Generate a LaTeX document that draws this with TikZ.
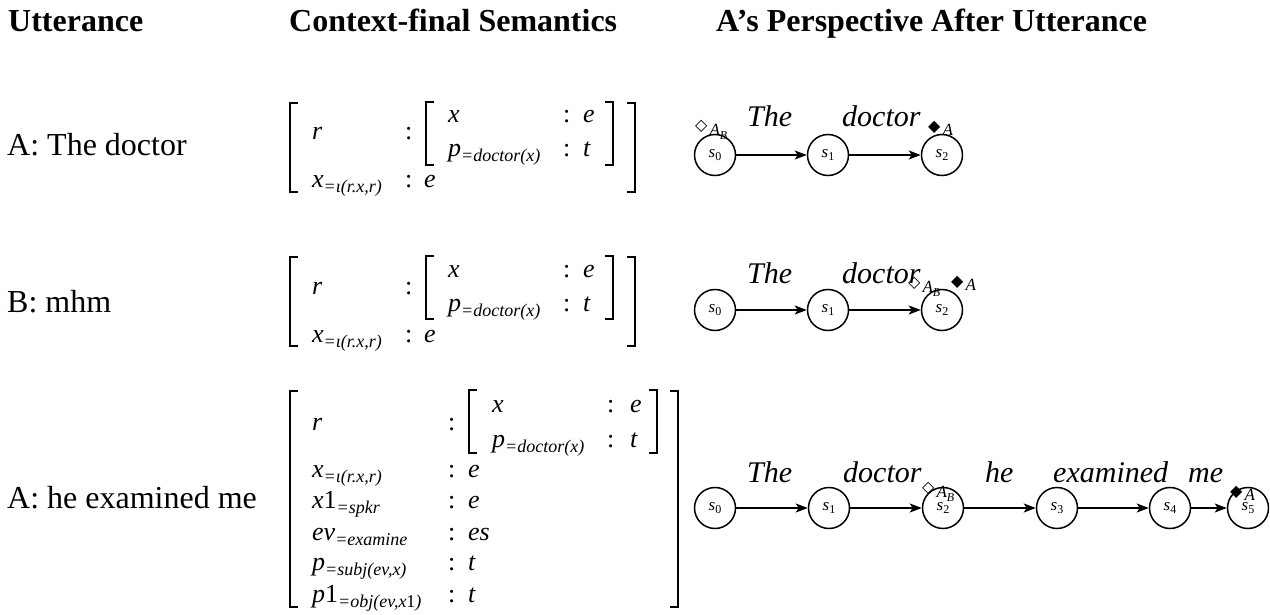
\documentclass[tikz,border=0pt]{standalone}
\usepackage{fontspec}
\setmainfont{Liberation Serif}
\newfontfamily\symfont{DejaVu Sans}
\usetikzlibrary{arrows.meta}
\newcommand{\sm}[1]{\raisebox{-5pt}{\fontsize{18}{18}\selectfont #1}}
\newcommand{\stl}[1]{s\raisebox{-3pt}{\fontsize{12}{12}\selectfont\upshape #1}}
\newcommand{\brL}[3]{\draw[brk] ({#1+8},#2) -- (#1,#2) -- (#1,#3) -- ({#1+8},#3);}
\newcommand{\brR}[3]{\draw[brk] ({#1-8},#2) -- (#1,#2) -- (#1,#3) -- ({#1-8},#3);}
\newcommand{\wdia}{{\symfont\fontsize{16}{16}\selectfont\raisebox{5pt}{◇}}}
\newcommand{\bdia}{{\symfont\fontsize{16}{16}\selectfont\raisebox{4pt}{◆}}}
\newcommand{\mkAB}{\wdia\kern2pt{\itshape A\raisebox{-4pt}{\fontsize{12}{12}\selectfont B}}}
\newcommand{\mkAA}{\bdia\kern2pt{\itshape A}}
\begin{document}
\begin{tikzpicture}[x=1pt,y=-1pt,
  hdr/.style={anchor=base west,inner sep=0pt,font=\fontsize{32}{32}\selectfont\bfseries},
  utt/.style={anchor=base west,inner sep=0pt,font=\fontsize{32}{32}\selectfont},
  mt/.style={anchor=base west,inner sep=0pt,font=\fontsize{26}{26}\selectfont\itshape},
  gw/.style={anchor=base west,inner sep=0pt,font=\fontsize{30}{30}\selectfont\itshape},
  mk/.style={anchor=base west,inner sep=0pt,font=\fontsize{17}{17}\selectfont},
  st/.style={circle,draw,line width=1.5pt,minimum size=41pt,inner sep=0pt,font=\fontsize{17}{17}\selectfont\itshape},
  arr/.style={-{Stealth[length=12pt,width=9pt,inset=3pt]},line width=1.4pt},
  brk/.style={line width=1.5pt}]
\useasboundingbox (0,0) rectangle (1270,615);
% headers
\node[hdr] (h1) at (8,32) {Utterance};
\node[hdr] (h2) at (289,32) {Context-final Semantics};
\node[hdr] (h3) at (716,32) {A’s Perspective After Utterance};
% utterances
\node[utt] (u1) at (7,156) {A: The doctor};
\node[utt] (u2) at (7,312) {B: mhm};
\node[utt] (u3) at (7,508) {A: he examined me};
% matrices 1 and 2
\foreach \dy/\n in {0/m, 154/n}{
\begin{scope}[shift={(0,\dy)}]
\brL{290}{103}{192}\brR{635}{103}{192}
\brL{426}{102}{165}\brR{613}{102}{165}
\node[mt] (\n r) at (312,140) {r};
\node[mt] (\n c1) at (405,140) {\upshape :};
\node[mt] (\n ix) at (448,123) {x};
\node[mt] (\n ic1) at (563,123) {\upshape :};
\node[mt] (\n ie) at (583,123) {e};
\node[mt] (\n ip) at (448,157) {p\sm{=doctor(x)}};
\node[mt] (\n ic2) at (563,157) {\upshape :};
\node[mt] (\n it) at (583,157) {t};
\node[mt] (\n x) at (312,188) {x\sm{=ι(r.x,r)}};
\node[mt] (\n c2) at (405,188) {\upshape :};
\node[mt] (\n e) at (424,188) {e};
\end{scope}}
% matrix 3
\brL{290}{391}{607}\brR{678}{391}{607}
\brL{469}{390}{453}\brR{657}{390}{453}
\node[mt] (kr) at (312,430) {r};
\node[mt] (kc1) at (448,430) {\upshape :};
\node[mt] (kix) at (492,412) {x};
\node[mt] (kic1) at (607,412) {\upshape :};
\node[mt] (kie) at (630,412) {e};
\node[mt] (kip) at (492,447) {p\sm{=doctor(x)}};
\node[mt] (kic2) at (607,447) {\upshape :};
\node[mt] (kit) at (630,447) {t};
\node[mt] (kx) at (312,477) {x\sm{=ι(r.x,r)}};
\node[mt] (kc2) at (448,477) {\upshape :};
\node[mt] (ke2) at (468,477) {e};
\node[mt] (kx1) at (312,508) {x{\upshape 1}\sm{=spkr}};
\node[mt] (kc3) at (448,508) {\upshape :};
\node[mt] (ke3) at (468,508) {e};
\node[mt] (kev) at (312,540) {ev\sm{=examine}};
\node[mt] (kc4) at (448,540) {\upshape :};
\node[mt] (ke4) at (468,540) {es};
\node[mt] (kp) at (312,570) {p\sm{=subj(ev,x)}};
\node[mt] (kc5) at (448,570) {\upshape :};
\node[mt] (ke5) at (468,570) {t};
\node[mt] (kp1) at (312,602) {p{\upshape 1}\sm{=obj(ev,x{\upshape 1})}};
\node[mt] (kc6) at (448,602) {\upshape :};
\node[mt] (ke6) at (468,602) {t};
% graph 1
\node[st] (a0) at (715,155) {\stl{0}};
\node[st] (a1) at (828,155) {\stl{1}};
\node[st] (a2) at (942,155) {\stl{2}};
\draw[arr] (a0) -- (a1);
\draw[arr] (a1) -- (a2);
\node[gw] (aw1) at (747,127) {The};
\node[gw] (aw2) at (842,127) {doctor};
\node[mk] (am1) at (695,136) {\mkAB};
\node[mk] (am2) at (928,136) {\mkAA};
% graph 2
\node[st] (b0) at (715,310) {\stl{0}};
\node[st] (b1) at (828,310) {\stl{1}};
\node[st] (b2) at (942,310) {\stl{2}};
\draw[arr] (b0) -- (b1);
\draw[arr] (b1) -- (b2);
\node[gw] (bw1) at (747,283) {The};
\node[gw] (bw2) at (842,283) {doctor};
\node[mk] (bm1) at (908,292) {\mkAB};
\node[mk] (bm2) at (951,290) {\mkAA};
% graph 3
\node[st] (c0) at (715,508) {\stl{0}};
\node[st] (c1) at (829,508) {\stl{1}};
\node[st] (c2) at (943,508) {\stl{2}};
\node[st] (c3) at (1057,508) {\stl{3}};
\node[st] (c4) at (1170,508) {\stl{4}};
\node[st] (c5) at (1248,508) {\stl{5}};
\draw[arr] (c0) -- (c1);
\draw[arr] (c1) -- (c2);
\draw[arr] (c2) -- (c3);
\draw[arr] (c3) -- (c4);
\draw[arr] (c4) -- (c5);
\node[gw] (cw1) at (747,482) {The};
\node[gw] (cw2) at (843,482) {doctor};
\node[mk] (cm1) at (922,497) {\mkAB};
\node[gw] (cw3) at (985,482) {he};
\node[gw] (cw4) at (1053,482) {examined};
\node[gw] (cw5) at (1188,482) {me};
\node[mk] (cm2) at (1230,500) {\mkAA};
\end{tikzpicture}
\end{document}
